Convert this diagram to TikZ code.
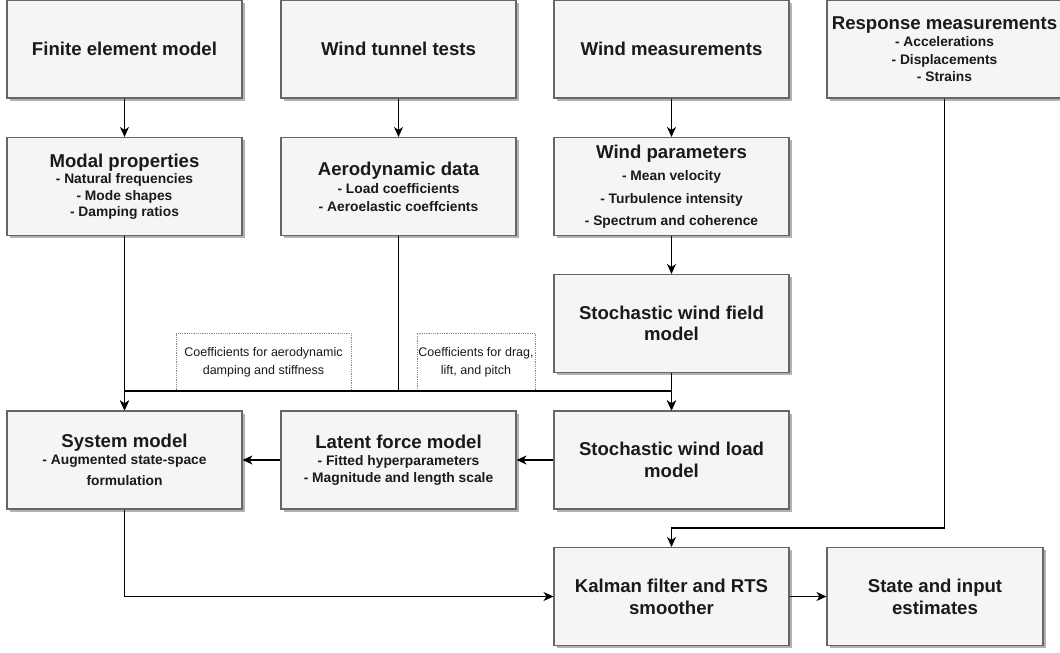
\documentclass[tikz,border=0pt]{standalone}
\usepackage{fontspec}
\setmainfont{Liberation Sans}
\usetikzlibrary{arrows.meta,shadows}

\definecolor{boxfill}{HTML}{F5F5F5}
\definecolor{boxline}{HTML}{666666}
\definecolor{boxtext}{HTML}{1A1A1A}
\definecolor{noteline}{HTML}{8C8C8C}

\newcommand{\titletext}[1]{{\fontsize{18.6}{21}\selectfont #1}}

\tikzset{
    box/.style={draw=boxline, line width=1.1pt, fill=boxfill, text=boxtext,
        minimum width=235pt, minimum height=98pt, inner sep=0pt, align=center,
        font=\bfseries\fontsize{13.8}{#1}\selectfont,
        drop shadow={shadow xshift=2.5pt, shadow yshift=-2.5pt, fill=black, opacity=0.3}},
    box/.default=17,
    note/.style={draw=noteline, densely dotted, line width=0.8pt, text=boxtext, align=center,
        minimum height=58pt, inner sep=0pt, font=\fontsize{12.5}{18.3}\selectfont},
    link/.style={draw=black, line width=1.1pt, -{Stealth[length=10pt,width=9pt,inset=3pt]}},
}

\begin{document}
\begin{tikzpicture}[x=1pt,y=-1pt]
    \useasboundingbox (0,0) rectangle (1060,653);

    \node[box] (fe) at (124.5,49) {\titletext{Finite element model}};
    \node[box] (wt) at (398.5,49) {\titletext{Wind tunnel tests}};
    \node[box] (wm) at (671.5,49) {\titletext{Wind measurements}};
    \node[box=17.5] (resp) at (944.5,49) {\titletext{Response measurements}\\- Accelerations\\- Displacements\\- Strains};

    \node[box=16.5] (modal) at (124.5,186.5) {\titletext{Modal properties}\\- Natural frequencies\\- Mode shapes\\- Damping ratios};
    \node[box=18] (aero) at (398.5,186.5) {\titletext{Aerodynamic data}\\- Load coefficients\\- Aeroelastic coeffcients};
    \node[box=22.5] (wp) at (671.5,186.5) {\titletext{Wind parameters}\\- Mean velocity\\- Turbulence intensity\\- Spectrum and coherence};

    \node[box=21.5] (swf) at (671.5,323.5) {\titletext{Stochastic wind field}\\\titletext{model}};

    \node[box=21] (sys) at (124.5,460) {\titletext{System model}\\[-3.5pt]- Augmented state-space\\formulation};
    \node[box=17] (lfm) at (398.5,460) {\titletext{Latent force model}\\- Fitted hyperparameters\\- Magnitude and length scale};
    \node[box=22] (swl) at (671.5,460) {\titletext{Stochastic wind load}\\\titletext{model}};

    \node[box=22] (kal) at (671.5,596.5) {\titletext{Kalman filter and RTS}\\\titletext{smoother}};
    \node[box=22, minimum width=216pt] (state) at (935,596.5) {\titletext{State and input}\\\titletext{estimates}};

    \node[note, minimum width=175pt] (damp) at (263.5,362) {Coefficients for aerodynamic\\damping and stiffness};
    \node[note, minimum width=118pt] (drag) at (476,362) {Coefficients for drag,\\lift, and pitch};

    \coordinate (bus) at (398.5,391);
    \coordinate (rturn) at (944.5,528);

    \draw[link] (fe) -- (modal);
    \draw[link] (wt) -- (aero);
    \draw[link] (wm) -- (wp);
    \draw[link] (wp) -- (swf);
    \draw[link] (swf) -- (swl);
    \draw[link] (modal) -- (sys);
    \draw[link] (aero.south) -- (bus) -| (sys.north);
    \draw[link] (bus) -| (swl.north);
    \draw[link] (swl) -- (lfm);
    \draw[link] (lfm) -- (sys);
    \draw[link] (sys.south) |- (kal.west);
    \draw[link] (resp.south) -- (rturn) -| (kal.north);
    \draw[link] (kal) -- (state);
\end{tikzpicture}
\end{document}
